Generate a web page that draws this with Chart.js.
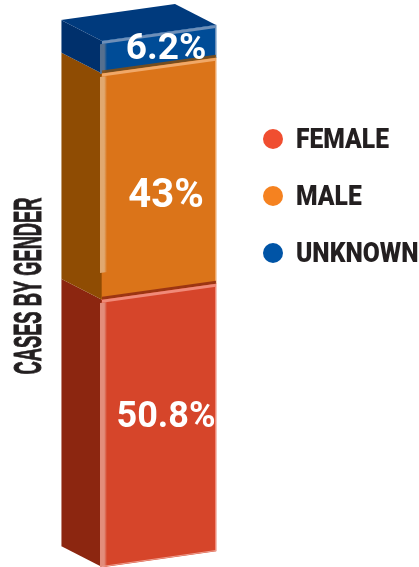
<!DOCTYPE html>
<html>
<head>
<meta charset="utf-8">
<title>Cases by gender</title>
<script src="https://cdn.jsdelivr.net/npm/chart.js@4"></script>
<style>
    html, body { margin: 0; padding: 0; background: #fff; overflow: hidden; }
    canvas { display: block; }
</style>
</head>
<body>
<canvas id="genderChart" width="419" height="567"></canvas>
<script>
const categories = ['Cases by gender'];
const seriesNames = ['FEMALE', 'MALE', 'UNKNOWN'];
const seriesValues = [50.8, 43, 6.2];
const valueLabels = ['50.8%', '43%', '6.2%'];
const axisTitle = 'CASES BY GENDER';

const frontColors = ['#d6452a', '#db7419', '#004c97'];
const sideColors = ['#8c2610', '#8f4c03', '#00306c'];
const bandColors = ['#f08a78', '#f0a868', '#6e8fb8'];
const stripColors = ['#e28d7c', '#e0a870', '#56708f'];
const legendColors = ['#f04e30', '#f58220', '#0054a6'];
const topColor = '#003a7d';

// front face leans up to the right, side face goes back up and left
const SLOPE = -0.14;
const DEPTH_X = 41;
const DEPTH_Y = 21;

const cubePlugin = {
    id: 'cube',
    beforeDatasetsDraw(chart) {
        const ctx = chart.ctx;
        chart.data.datasets.forEach((ds, i) => {
            const bar = chart.getDatasetMeta(i).data[0];
            const left = bar.x - bar.width / 2;
            ctx.fillStyle = sideColors[i];
            ctx.beginPath();
            ctx.moveTo(left, bar.base);
            ctx.lineTo(left - DEPTH_X, bar.base - DEPTH_Y);
            ctx.lineTo(left - DEPTH_X, bar.y - DEPTH_Y);
            ctx.lineTo(left, bar.y);
            ctx.closePath();
            ctx.fill();
        });

        // top of the whole stack
        const last = chart.getDatasetMeta(seriesValues.length - 1).data[0];
        const l = last.x - last.width / 2;
        const rise = last.width * SLOPE;
        ctx.fillStyle = topColor;
        ctx.beginPath();
        ctx.moveTo(l, last.y);
        ctx.lineTo(l - DEPTH_X, last.y - DEPTH_Y);
        ctx.lineTo(l - DEPTH_X + last.width, last.y - DEPTH_Y + rise);
        ctx.lineTo(l + last.width, last.y + rise);
        ctx.closePath();
        ctx.fill();

        // pale edge on the outside of the side face
        const first = chart.getDatasetMeta(0).data[0];
        ctx.strokeStyle = 'rgba(255,255,255,0.45)';
        ctx.lineWidth = 1;
        ctx.beginPath();
        ctx.moveTo(l - DEPTH_X + 0.5, last.y - DEPTH_Y);
        ctx.lineTo(l - DEPTH_X + 0.5, first.base - DEPTH_Y);
        ctx.stroke();
    },
    beforeDatasetDraw(chart) {
        const ctx = chart.ctx;
        const x0 = chart.chartArea.left;
        ctx.save();
        ctx.transform(1, SLOPE, 0, 1, 0, -SLOPE * x0);
    },
    afterDatasetDraw(chart, args) {
        const ctx = chart.ctx;
        const i = args.index;
        const bar = chart.getDatasetMeta(i).data[0];
        const left = bar.x - bar.width / 2;
        const height = bar.base - bar.y;

        // strip down the left of the front face
        const grad = ctx.createLinearGradient(left - 2, 0, left + 5, 0);
        grad.addColorStop(0, stripColors[i]);
        grad.addColorStop(0.6, stripColors[i]);
        grad.addColorStop(1, frontColors[i]);
        ctx.fillStyle = grad;
        ctx.fillRect(left - 2, bar.y + 3, 7, i === 1 ? height - 30 : height - 3);

        // thin pale line on the right
        ctx.fillStyle = bandColors[i];
        ctx.fillRect(left + bar.width - 1, bar.y, 1, height);

        // light band on top of each block, dark line over it
        ctx.fillStyle = sideColors[i];
        ctx.globalAlpha = i === 2 ? 0 : 0.8;
        ctx.fillRect(left, bar.y - 3, bar.width, 3);
        ctx.globalAlpha = 1;
        ctx.fillStyle = bandColors[i];
        ctx.fillRect(left, bar.y, bar.width, 3);

        if (i === 0) {
            ctx.fillStyle = '#ee9f90';
            ctx.fillRect(left, bar.base - 1, bar.width, 1);
        }
        ctx.restore();
    },
    afterDraw(chart) {
        const ctx = chart.ctx;
        const labelNudge = [-6, 19, 1];
        const labelSizes = [36, 40, 37];

        // value labels
        ctx.fillStyle = '#fff';
        ctx.textAlign = 'center';
        ctx.textBaseline = 'middle';
        seriesValues.forEach((v, i) => {
            const bar = chart.getDatasetMeta(i).data[0];
            const mid = (bar.y + bar.base) / 2 + SLOPE * bar.width * 0.56 + labelNudge[i];
            ctx.font = 'bold ' + labelSizes[i] + 'px Roboto, sans-serif';
            ctx.fillText(valueLabels[i], 166, mid);
        });

        // legend
        ctx.textAlign = 'left';
        ctx.font = "900 28px Roboto, sans-serif";
        seriesNames.forEach((name, i) => {
            const y = 139 + i * 57;
            ctx.fillStyle = legendColors[i];
            ctx.beginPath();
            ctx.arc(273, y, 10, 0, Math.PI * 2);
            ctx.fill();
            ctx.fillStyle = '#231f20';
            ctx.save();
            ctx.translate(296, y + 2);
            ctx.scale(0.88, 1);
            ctx.fillText(name, 0, 0);
            ctx.restore();
        });

        // rotated title on the left, stroked a little because the narrow face is thin
        ctx.save();
        ctx.translate(29, 286);
        ctx.rotate(-Math.PI / 2);
        ctx.textAlign = 'center';
        ctx.font = "bold 39px 'Liberation Sans Narrow', 'Liberation Sans', sans-serif";
        ctx.fillStyle = '#231f20';
        ctx.strokeStyle = '#231f20';
        ctx.lineWidth = 1;
        ctx.fillText(axisTitle, 0, 1, 177);
        ctx.strokeText(axisTitle, 0, 1, 177);
        ctx.restore();
    }
};

new Chart(document.getElementById('genderChart').getContext('2d'), {
    type: 'bar',
    data: {
        labels: categories,
        datasets: seriesNames.map((name, i) => ({
            label: name,
            data: [seriesValues[i]],
            backgroundColor: frontColors[i],
            barPercentage: 1,
            categoryPercentage: 1,
            clip: false
        }))
    },
    options: {
        responsive: false,
        animation: false,
        layout: { padding: { left: 102, right: 203, top: 41, bottom: 0 } },
        plugins: { legend: { display: false }, tooltip: { enabled: false } },
        scales: {
            x: { stacked: true, display: false },
            y: { stacked: true, display: false, min: 0, max: 100 }
        }
    },
    plugins: [cubePlugin]
});
</script>
</body>
</html>
